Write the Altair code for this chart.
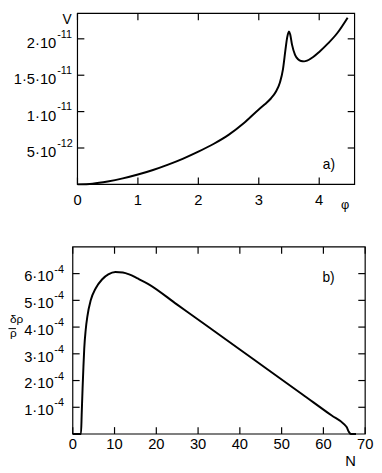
import altair as alt
import pandas as pd

FONT = "Liberation Sans"

# ---------------- panel a) : V(phi) ----------------
phi = [0, 0.25, 0.5, 0.75, 1.0, 1.25, 1.5, 1.75, 2.0, 2.25, 2.5, 2.75, 3.0, 3.1,
       3.2, 3.28, 3.35, 3.4, 3.44, 3.47, 3.5, 3.52, 3.55, 3.6, 3.65, 3.7, 3.75,
       3.8, 3.9, 4.0, 4.15, 4.3, 4.47]
V = [0, 0.10e-12, 0.40e-12, 0.82e-12, 1.35e-12, 1.98e-12, 2.72e-12, 3.55e-12,
     4.5e-12, 5.55e-12, 6.8e-12, 8.4e-12, 10.3e-12, 11.0e-12, 11.8e-12, 12.7e-12,
     14.0e-12, 15.8e-12, 18.4e-12, 20.2e-12, 21.0e-12, 20.6e-12, 19.2e-12,
     17.8e-12, 17.2e-12, 16.95e-12, 16.9e-12, 17.0e-12, 17.5e-12, 18.2e-12,
     19.4e-12, 20.8e-12, 22.9e-12]
a_xdomain = [0, 4.585]
a_ydomain = [0, 2.35e-11]
a_xticks = [0, 1, 2, 3, 4]
a_xlabels = ["0", "1", "2", "3", "4"]
a_yticks = [5e-12, 1e-11, 1.5e-11, 2e-11]
a_ymant = ["5·10", "1·10", "1·5·10", "2·10"]
a_yexp = ["-12", "-11", "-11", "-11"]

# ---------------- panel b) : delta rho / rho (N) ----------------
N = [0, 1.97, 2.15, 2.35, 2.55, 2.75, 3.1, 3.5, 4.3, 5.5, 7.0, 8.5, 10.2, 12.0,
     13.5, 15.5, 18.0, 25.0, 32.0, 40.0, 46.0, 55.0, 62.0, 65.0, 65.6, 66.1,
     66.6, 67.8]
drho = [0, 0, 0.8e-4, 1.7e-4, 2.5e-4, 3.2e-4, 3.9e-4, 4.4e-4, 5.0e-4, 5.45e-4,
        5.78e-4, 5.97e-4, 6.06e-4, 6.04e-4, 5.97e-4, 5.82e-4, 5.62e-4, 4.84e-4,
        4.06e-4, 3.16e-4, 2.49e-4, 1.48e-4, 0.69e-4, 0.36e-4, 0.25e-4, 0.08e-4,
        0, 0]
b_xdomain = [0, 70]
b_ydomain = [0, 7e-4]
b_xticks = [0, 10, 20, 30, 40, 50, 60, 70]
b_xlabels = ["0", "10", "20", "30", "40", "50", "60", "70"]
b_yticks = [1e-4, 2e-4, 3e-4, 4e-4, 5e-4, 6e-4]
b_ymant = ["1·10", "2·10", "3·10", "4·10", "5·10", "6·10"]
b_yexp = ["-4", "-4", "-4", "-4", "-4", "-4"]

# ---------------- layout (pixels inside the one plot area) ----------------
W, H = 298, 429
A_X = [4.8, 287.2]      # panel a) left/right
A_Y = [174.3, 0]        # panel a) bottom/top
B_X = [0, 298]          # panel b) left/right
B_Y = [428.7, 238]      # panel b) bottom/top
TL = 7                  # inward tick length
RULE = dict(color="black", strokeWidth=1.2)


def note(text, x, y, size=14, align="left", baseline="alphabetic"):
    return alt.Chart(pd.DataFrame({"s": [text]})).mark_text(
        align=align, baseline=baseline, fontSize=size, font=FONT, color="black"
    ).encode(x=alt.value(x), y=alt.value(y), text="s:N")


def panel(df, xf, yf, xdom, ydom, px, py, xticks, xlabels, yticks, mant, expo,
          lab_pad, mant_x, mant_dy, exp_x, exp_dy):
    xs = alt.Scale(domain=xdom, range=px, nice=False, zero=False)
    ys = alt.Scale(domain=ydom, range=py, nice=False, zero=False)
    X = lambda f: alt.X(f, type="quantitative", scale=xs, axis=None)
    Y = lambda f: alt.Y(f, type="quantitative", scale=ys, axis=None)

    frame = alt.Chart(pd.DataFrame({
        "x0": [xdom[0]], "x1": [xdom[1]], "y0": [ydom[0]], "y1": [ydom[1]]
    })).mark_rect(fill="transparent", stroke="black", strokeWidth=1.2).encode(
        x=X("x0"), x2=alt.X2("x1"), y=Y("y0"), y2=alt.Y2("y1"))

    line = alt.Chart(df).mark_line(
        color="black", strokeWidth=2, interpolate="monotone"
    ).encode(x=X(xf), y=Y(yf))

    tx = pd.DataFrame({xf: xticks, "lab": xlabels})
    ty = pd.DataFrame({yf: yticks, "m": mant, "e": expo})
    bottom, top = py[0], py[1]
    left, right = px[0], px[1]
    tx_b = alt.Chart(tx).mark_rule(**RULE).encode(
        x=X(xf), y=alt.value(bottom), y2=alt.value(bottom - TL))
    tx_t = alt.Chart(tx).mark_rule(**RULE).encode(
        x=X(xf), y=alt.value(top), y2=alt.value(top + TL))
    ty_l = alt.Chart(ty).mark_rule(**RULE).encode(
        y=Y(yf), x=alt.value(left), x2=alt.value(left + TL))
    ty_r = alt.Chart(ty).mark_rule(**RULE).encode(
        y=Y(yf), x=alt.value(right), x2=alt.value(right - TL))
    xl = alt.Chart(tx).mark_text(
        align="center", baseline="top", fontSize=15, font=FONT, color="black"
    ).encode(x=X(xf), y=alt.value(bottom + lab_pad), text="lab:N")
    m = alt.Chart(ty).mark_text(
        align="right", baseline="alphabetic", dy=mant_dy, fontSize=15,
        font=FONT, color="black"
    ).encode(y=Y(yf), x=alt.value(left + mant_x), text="m:N")
    e = alt.Chart(ty).mark_text(
        align="left", baseline="alphabetic", dy=exp_dy, fontSize=11,
        font=FONT, color="black"
    ).encode(y=Y(yf), x=alt.value(left + exp_x), text="e:N")
    return [frame, line, tx_b, tx_t, ty_l, ty_r, xl, m, e]


dfa = pd.DataFrame({"phi": phi, "V": V})
dfb = pd.DataFrame({"N": N, "drho": drho})

layers_a = panel(dfa, "phi", "V", a_xdomain, a_ydomain, A_X, A_Y,
                 a_xticks, a_xlabels, a_yticks, a_ymant, a_yexp,
                 9, -21.6, 9.3, -20.6, -1.3)
layers_b = panel(dfb, "N", "drho", b_xdomain, b_ydomain, B_X, B_Y,
                 b_xticks, b_xlabels, b_yticks, b_ymant, b_yexp,
                 3, -19.5, 8, -18.8, -1)

frac_bar = alt.Chart(pd.DataFrame({"bar": [0]})).mark_rule(
    color="black", strokeWidth=1).encode(
    x=alt.value(-65.5), x2=alt.value(-57.9), y=alt.value(B_Y[1] + 83.3))

notes = [
    note("V", A_X[0] - 10.6, 0, size=14, align="center", baseline="top"),
    note("φ", A_X[0] + 272.7, A_Y[0] + 25, size=13, align="center"),
    note("a)", A_X[0] + 250, 159, size=14),
    note("δρ", -63.9, B_Y[1] + 77.5, size=12),
    frac_bar,
    note("ρ", -63.9, B_Y[1] + 92, size=12),
    note("N", 283.2, B_Y[0] + 32.6, size=15, align="center"),
    note("b)", 254.5, B_Y[1] + 36, size=14),
]

chart = alt.layer(*layers_a, *layers_b, *notes).resolve_scale(
    x="independent", y="independent"
).properties(
    width=W, height=H, padding=0, background="white"
).configure_view(strokeOpacity=0)

chart.save("out.html", embed_options={"renderer": "svg", "actions": False})
